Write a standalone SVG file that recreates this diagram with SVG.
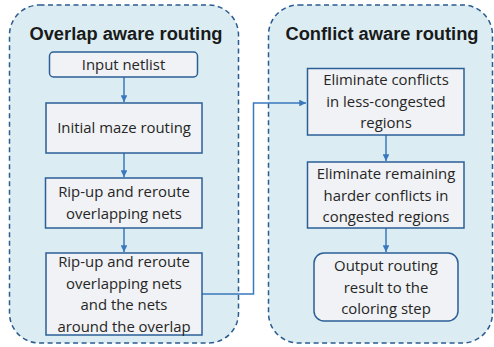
<svg xmlns="http://www.w3.org/2000/svg" width="494" height="347" viewBox="0 0 494 347">
<style>
.cont{fill:#dbedf3;stroke:#2a5b8f;stroke-width:1.5;stroke-dasharray:5,3.5}
.node{fill:#f0f2f5;stroke:#2b5f96;stroke-width:1.5}
.title{font-family:"Liberation Sans",Arial,sans-serif;font-weight:bold;font-size:18.3px;fill:#1a1a1a;text-anchor:middle}
.t{font-family:"Open Sans","Liberation Sans",sans-serif;font-size:14.9px;fill:#262626;text-anchor:middle}
.c{fill:none;stroke:#3a78bd;stroke-width:1.5}
</style>
<defs>
<marker id="ah" viewBox="0 0 10 10" refX="10" refY="5" markerWidth="4.5" markerHeight="4.5" orient="auto" markerUnits="strokeWidth">
<path d="M0,0 L10,5 L0,10 z" fill="#3a78bd"/>
</marker>
</defs>
<g id="overlap-group">
<rect class="cont" x="9.5" y="5" width="229" height="338" rx="30"/>
<text class="title" x="126" y="39.5">Overlap aware routing</text>
</g>
<g id="conflict-group">
<rect class="cont" x="268.5" y="5" width="224" height="338" rx="30"/>
<text class="title" x="382" y="39.5">Conflict aware routing</text>
</g>
<g id="connectors">
<line class="c" x1="124" y1="77" x2="124" y2="102" marker-end="url(#ah)"/>
<line class="c" x1="124" y1="153" x2="124" y2="177" marker-end="url(#ah)"/>
<line class="c" x1="124" y1="228" x2="124" y2="252" marker-end="url(#ah)"/>
<polyline class="c" points="202,294 253.5,294 253.5,103 306,103" marker-end="url(#ah)"/>
<line class="c" x1="386" y1="135" x2="386" y2="161" marker-end="url(#ah)"/>
<line class="c" x1="386" y1="228" x2="386" y2="252" marker-end="url(#ah)"/>
</g>
<g id="n1">
<rect class="node" x="49.5" y="52" width="148" height="25" rx="4"/>
<text class="t" x="123.5" y="70">Input netlist</text>
</g>
<g id="n2">
<rect class="node" x="46" y="103" width="156" height="50"/>
<text class="t" x="124" y="133">Initial maze routing</text>
</g>
<g id="n3">
<rect class="node" x="45.5" y="178" width="156.5" height="50"/>
<text class="t" x="124" y="197">Rip-up and reroute</text>
<text class="t" x="124" y="219">overlapping nets</text>
</g>
<g id="n4">
<rect class="node" x="46" y="253" width="156" height="82"/>
<text class="t" x="124" y="267">Rip-up and reroute</text>
<text class="t" x="124" y="289">overlapping nets</text>
<text class="t" x="124" y="310">and the nets</text>
<text class="t" x="124" y="332">around the overlap</text>
</g>
<g id="n5">
<rect class="node" x="307.5" y="68.5" width="156.5" height="66.5"/>
<text class="t" x="386" y="85">Eliminate conflicts</text>
<text class="t" x="386" y="107">in less-congested</text>
<text class="t" x="386" y="128">regions</text>
</g>
<g id="n6">
<rect class="node" x="307.5" y="162" width="156.5" height="66"/>
<text class="t" x="386" y="179">Eliminate remaining</text>
<text class="t" x="386" y="201">harder conflicts in</text>
<text class="t" x="386" y="222">congested regions</text>
</g>
<g id="n7">
<rect class="node" x="314" y="253" width="144" height="68" rx="10"/>
<text class="t" x="386" y="271">Output routing</text>
<text class="t" x="386" y="293">result to the</text>
<text class="t" x="386" y="314">coloring step</text>
</g>
</svg>
